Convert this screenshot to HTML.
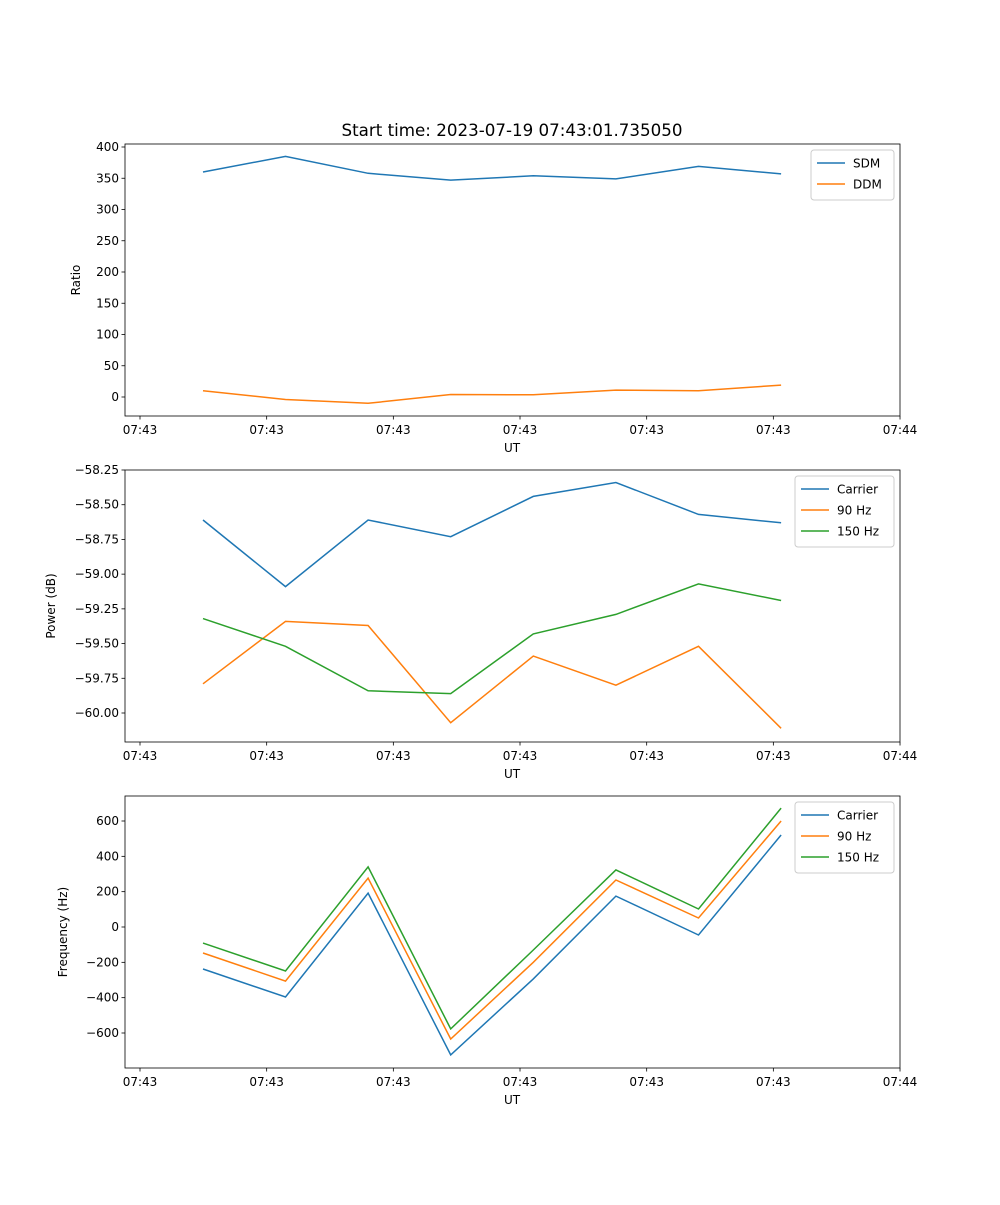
<!DOCTYPE html>
<html><head><meta charset="utf-8">
<style>
body{margin:0;background:#fff;font-family:"Liberation Sans","DejaVu Sans",sans-serif;}
svg text{font-family:"DejaVu Sans","Liberation Sans",sans-serif;font-size:12px;fill:#000;}
</style></head>
<body>
<svg id="fig" width="1000" height="1200" xmlns="http://www.w3.org/2000/svg">
<rect width="1000" height="1200" fill="#fff"/>
<text x="512" y="136" text-anchor="middle" style="font-size:16.7px">Start time: 2023-07-19 07:43:01.735050</text>
</svg>
<script>
const times=[0.497,1.149,1.801,2.453,3.105,3.757,4.409,5.061];
const xTickVals=[0,1,2,3,4,5,6];
const xTickLabels=["07:43","07:43","07:43","07:43","07:43","07:43","07:44"];
const sdm=[360,385,358,347,354,349,369,357];
const ddm=[10,-4,-10,4,3.5,11,10,19];
const pCarrier=[-58.61,-59.09,-58.61,-58.73,-58.44,-58.34,-58.57,-58.63];
const p90=[-59.79,-59.34,-59.37,-60.07,-59.59,-59.80,-59.52,-60.11];
const p150=[-59.32,-59.52,-59.84,-59.86,-59.43,-59.29,-59.07,-59.19];
const fCarrier=[-238,-396,192,-724,-294,175,-45,521];
const f90=[-147,-306,277,-634,-200,266,51,600];
const f150=[-91,-249,340,-577,-130,323,102,673];
const ticks1=[0,50,100,150,200,250,300,350,400];
const ticks2=[-60.00,-59.75,-59.50,-59.25,-59.00,-58.75,-58.50,-58.25];
const ticks3=[-600,-400,-200,0,200,400,600];
const C=["#1f77b4","#ff7f0e","#2ca02c"];
const svg=document.getElementById('fig');
const NS="http://www.w3.org/2000/svg";
function el(t,a){const e=document.createElementNS(NS,t);for(const k in a)e.setAttribute(k,a[k]);svg.appendChild(e);return e;}
const L=125,R=900;
const xs=t=>140+t*126.67;
function panel(top,bot,v0,p0,v1,p1,ticks,fmt,series,names,ylabel,ylx,pname,legW){
  const ys=v=>p0+(v-v0)*(p1-p0)/(v1-v0);
  series.forEach((s,i)=>{
    const d=s.map((v,j)=>(j?'L':'M')+xs(times[j]).toFixed(1)+','+ys(v).toFixed(1)).join('');
    const p=el('path',{d:d,fill:'none',stroke:C[i],'stroke-width':1.5});
    
    
  });
  const fr=el('rect',{x:L,y:top,width:R-L,height:bot-top,fill:'none',stroke:'#000','stroke-width':0.8});
  
  
  ticks.forEach(v=>{const y=ys(v);
    el('line',{x1:L-3.5,x2:L,y1:y,y2:y,stroke:'#000','stroke-width':0.8});
    const t=el('text',{x:L-6,y:y+4,'text-anchor':'end'});t.textContent=fmt(v);
    
    });
  xTickVals.forEach((v,i)=>{const x=xs(v);
    el('line',{x1:x,x2:x,y1:bot,y2:bot+3.5,stroke:'#000','stroke-width':0.8});
    const t=el('text',{x:x,y:bot+18,'text-anchor':'middle'});t.textContent=xTickLabels[i];
    
    });
  const xl=el('text',{x:512,y:bot+36,'text-anchor':'middle'});xl.textContent='UT';
  
  
  const cy=(top+bot)/2;
  const yl=el('text',{x:ylx,y:cy,'text-anchor':'middle',transform:'rotate(-90 '+ylx+' '+cy+')'});yl.textContent=ylabel;
  
  
  const lx=R-6-legW,ly=top+6,lh=names.length*21+8;
  const lg=el('rect',{x:lx,y:ly,width:legW,height:lh,rx:3,fill:'#fff',stroke:'#ccc','stroke-width':1});
  
  
  names.forEach((n,i)=>{const yy=ly+13+i*21;
    el('line',{x1:lx+6,x2:lx+34,y1:yy,y2:yy,stroke:C[i],'stroke-width':1.5});
    const t=el('text',{x:lx+42,y:yy+4.5});t.textContent=n;
    
    });
}
panel(144,416,0,397,400,147,ticks1,v=>String(v),[sdm,ddm],['SDM','DDM'],'Ratio',80,'ratio',83);
panel(470,742,-58.25,470,-60.00,713,ticks2,v=>(v<0?'\u2212':'')+Math.abs(v).toFixed(2),[pCarrier,p90,p150],['Carrier','90 Hz','150 Hz'],'Power (dB)',55,'power',99);
panel(796,1068,600,821,-600,1033,ticks3,v=>(v<0?'\u2212':'')+Math.abs(v),[fCarrier,f90,f150],['Carrier','90 Hz','150 Hz'],'Frequency (Hz)',67,'frequency',99);
</script>
</body></html>
